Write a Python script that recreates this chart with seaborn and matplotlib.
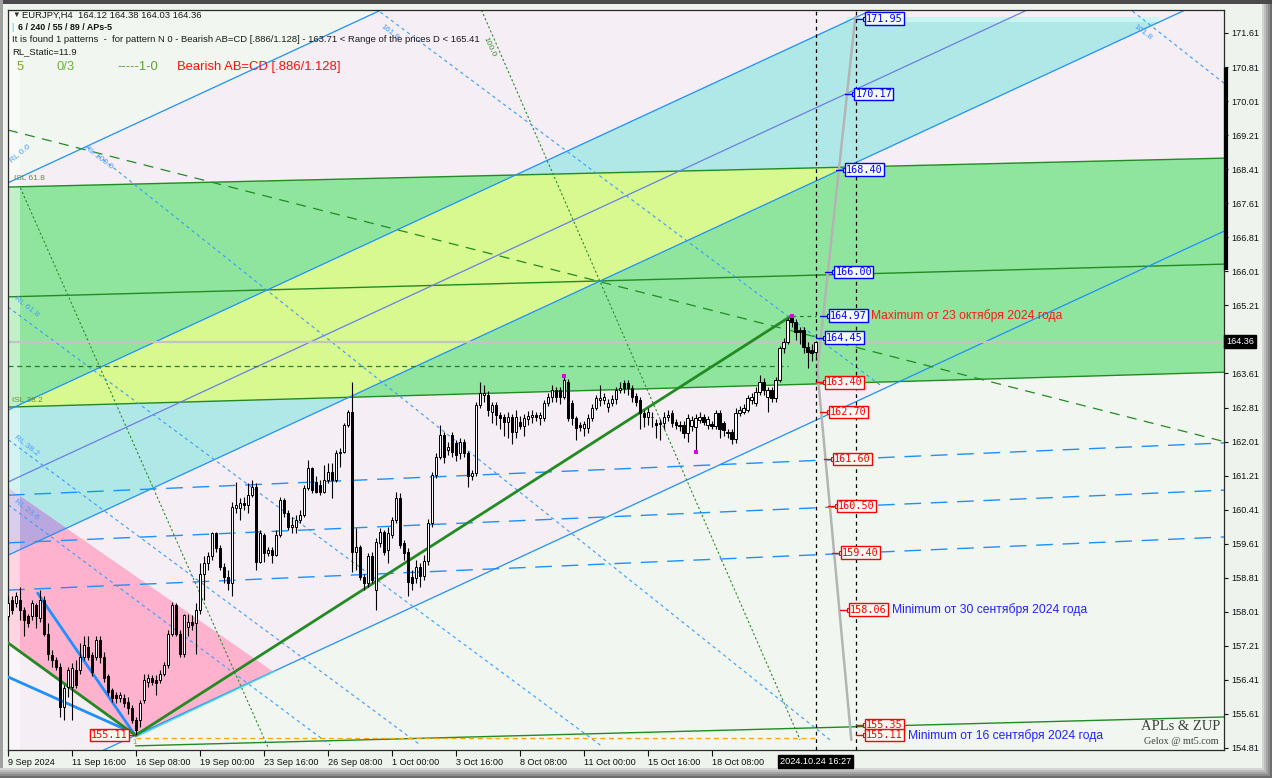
import numpy as np
import pandas as pd
import seaborn as sns
import matplotlib
matplotlib.use("Agg")
import matplotlib.pyplot as plt
import matplotlib.transforms as mtransforms
from matplotlib.patches import Rectangle, Polygon

# ---- EURJPY H4 candles, bar 0 = 9 Sep 2024 00:00 ----
opens = [157.90, 158.29, 158.21, 158.29, 158.05, 157.90, 157.90, 158.17, 157.86, 158.29,
         157.50, 156.99, 156.88, 156.72, 155.78, 156.25, 156.25, 156.64, 156.64, 156.95,
         157.19, 156.99, 156.95, 157.35, 156.95, 156.49, 156.17, 156.05, 155.98, 155.98,
         155.90, 155.74, 155.47, 155.47, 155.94, 156.37, 156.45, 156.41, 156.41, 156.56,
         156.76, 157.50, 158.17, 157.50, 157.03, 157.66, 157.78, 157.74, 158.05, 158.91,
         159.15, 159.31, 159.85, 159.50, 159.07, 158.83, 158.68, 160.44, 160.44, 160.56,
         160.52, 160.75, 160.95, 159.19, 159.81, 159.38, 159.46, 159.34, 159.81, 160.64,
         160.32, 160.01, 160.01, 160.17, 160.28, 160.91, 161.38, 161.07, 160.99, 160.83,
         161.11, 161.30, 161.11, 161.73, 161.77, 162.40, 162.71, 159.42, 159.54, 158.83,
         158.68, 159.31, 158.52, 159.62, 159.89, 159.46, 159.81, 160.17, 160.68, 159.62,
         159.42, 158.83, 158.80, 159.07, 158.85, 159.20, 160.10, 161.22, 161.65, 162.16,
         161.81, 162.16, 161.97, 161.73, 162.00, 161.73, 161.19, 161.26, 162.87, 163.10,
         163.10, 162.71, 162.87, 162.63, 162.59, 162.48, 162.59, 162.24, 162.48, 162.38,
         162.53, 162.59, 162.63, 162.56, 162.56, 162.91, 163.06, 163.22, 163.22, 163.06,
         163.42, 162.91, 162.56, 162.40, 162.34, 162.32, 162.56, 162.79, 162.99, 162.99,
         162.83, 162.91, 163.00, 163.22, 163.38, 163.38, 163.28, 163.08, 162.99, 162.67,
         162.58, 162.58, 162.44, 162.42, 162.45, 162.59, 162.67, 162.48, 162.40, 162.40,
         162.20, 162.38, 162.36, 162.52, 162.59, 162.40, 162.42, 162.38, 162.67, 162.44,
         162.22, 162.24, 162.06, 162.67, 162.71, 162.75, 162.99, 162.91, 163.18, 163.42,
         163.06, 163.22, 163.03, 163.46, 164.20, 164.36, 164.96, 164.83, 164.63, 164.63,
         164.24, 164.16, 164.12]
highs = [158.37, 158.37, 158.48, 158.60, 158.13, 157.97, 158.29, 158.21, 158.52, 158.37,
         157.74, 157.11, 156.95, 156.80, 156.29, 156.72, 156.80, 156.88, 157.27, 157.43,
         157.43, 157.07, 157.43, 157.43, 157.07, 156.56, 156.21, 156.13, 156.13, 156.09,
         156.01, 155.82, 155.55, 155.94, 156.56, 156.56, 156.52, 156.52, 156.64, 156.84,
         157.58, 158.25, 158.21, 157.58, 157.97, 157.97, 157.93, 158.21, 159.15, 159.31,
         159.42, 159.89, 159.89, 159.58, 159.15, 158.99, 160.60, 161.07, 160.68, 160.71,
         161.03, 161.11, 161.03, 159.93, 159.85, 159.54, 159.54, 159.93, 160.71, 160.68,
         160.40, 160.24, 160.28, 160.40, 160.99, 161.58, 161.42, 161.19, 161.11, 161.46,
         161.50, 161.50, 161.81, 161.85, 162.44, 162.75, 163.42, 159.97, 159.58, 158.91,
         159.38, 159.42, 159.74, 159.97, 159.93, 160.01, 160.24, 160.83, 160.79, 159.70,
         159.50, 158.99, 159.23, 159.15, 159.35, 160.20, 161.30, 161.75, 162.40, 162.24,
         162.00, 162.24, 162.05, 162.10, 162.08, 161.80, 161.35, 162.95, 163.40, 163.35,
         163.20, 162.95, 162.95, 162.70, 162.65, 162.70, 162.65, 162.75, 162.60, 162.65,
         162.72, 162.75, 162.70, 162.70, 162.98, 163.15, 163.35, 163.30, 163.30, 163.55,
         163.48, 162.98, 162.60, 162.48, 162.50, 162.65, 162.90, 163.10, 163.34, 163.15,
         163.00, 163.10, 163.30, 163.40, 163.45, 163.45, 163.35, 163.15, 163.05, 162.75,
         162.80, 162.70, 162.55, 162.55, 162.70, 162.75, 162.75, 162.55, 162.50, 162.50,
         162.65, 162.60, 162.65, 162.70, 162.65, 162.60, 162.50, 162.75, 162.75, 162.50,
         162.30, 162.30, 162.80, 162.85, 162.90, 163.10, 163.15, 163.30, 163.57, 163.50,
         163.30, 163.30, 163.52, 164.25, 164.45, 164.92, 164.97, 164.90, 164.70, 164.70,
         164.35, 164.30, 164.38]
lows = [157.82, 157.97, 158.13, 157.82, 157.43, 157.66, 157.82, 157.62, 157.78, 157.43,
        156.88, 156.72, 156.64, 155.55, 155.47, 156.01, 155.47, 156.21, 156.56, 156.88,
        156.88, 156.49, 156.88, 156.80, 156.37, 156.05, 155.90, 155.86, 155.90, 155.78,
        155.62, 155.39, 155.11, 155.31, 155.86, 156.25, 156.29, 156.05, 156.33, 156.49,
        156.68, 157.43, 157.43, 156.95, 156.95, 157.43, 157.58, 157.03, 157.97, 158.29,
        158.99, 159.23, 159.42, 158.99, 158.68, 158.52, 158.37, 160.32, 160.17, 160.40,
        160.32, 160.71, 158.99, 159.15, 159.19, 159.31, 159.15, 159.31, 159.77, 160.24,
        159.93, 159.85, 159.85, 160.09, 160.24, 160.87, 160.79, 160.79, 160.75, 160.79,
        161.03, 160.68, 161.07, 161.42, 161.73, 162.36, 158.95, 158.99, 158.76, 158.52,
        158.60, 158.68, 158.06, 159.54, 159.34, 159.15, 159.74, 160.09, 159.50, 159.23,
        158.37, 158.52, 158.68, 158.60, 158.75, 159.10, 160.00, 161.15, 161.60, 161.50,
        161.70, 161.65, 161.55, 161.60, 161.65, 160.95, 161.10, 161.20, 162.80, 162.95,
        162.60, 162.45, 162.40, 162.30, 162.15, 162.10, 161.95, 162.10, 162.30, 162.15,
        162.40, 162.45, 162.50, 162.40, 162.50, 162.85, 162.95, 162.95, 162.90, 163.00,
        162.50, 162.40, 162.05, 162.25, 162.15, 162.20, 162.50, 162.75, 162.85, 162.90,
        162.70, 162.85, 162.90, 163.15, 163.15, 163.10, 162.95, 162.85, 162.30, 162.35,
        162.40, 162.35, 162.10, 162.05, 162.30, 162.50, 162.35, 162.30, 162.25, 162.10,
        162.00, 162.25, 161.77, 162.45, 162.40, 162.30, 162.30, 162.30, 162.10, 162.15,
        162.10, 161.95, 161.98, 162.60, 162.65, 162.70, 162.90, 162.85, 163.10, 163.10,
        162.70, 162.95, 162.95, 163.40, 164.10, 164.30, 164.70, 164.40, 164.30, 164.10,
        163.73, 163.90, 164.03]
closes = [158.21, 158.05, 158.37, 158.05, 157.82, 157.74, 158.21, 157.90, 158.29, 157.50,
          157.03, 156.88, 156.72, 155.78, 156.21, 156.64, 156.68, 156.29, 156.95, 157.23,
          156.95, 156.60, 157.35, 156.95, 156.45, 156.13, 155.98, 155.98, 156.05, 155.86,
          155.74, 155.47, 155.23, 155.86, 156.41, 156.45, 156.37, 156.33, 156.56, 156.76,
          157.50, 158.17, 157.50, 157.03, 157.93, 157.78, 157.70, 158.05, 158.91, 159.15,
          159.31, 159.85, 159.50, 159.07, 158.83, 158.68, 160.48, 160.52, 160.56, 160.52,
          160.75, 160.95, 159.19, 159.85, 159.38, 159.46, 159.34, 159.81, 160.64, 160.32,
          160.01, 160.05, 160.17, 160.28, 160.91, 161.38, 160.87, 160.83, 160.83, 161.11,
          161.30, 161.11, 161.73, 161.77, 162.40, 162.71, 159.42, 159.54, 158.83, 158.68,
          159.31, 158.76, 159.66, 159.89, 159.42, 159.85, 160.17, 160.68, 159.58, 159.38,
          158.72, 158.68, 159.07, 158.85, 159.20, 160.10, 161.22, 161.65, 162.16, 161.65,
          161.89, 161.77, 161.69, 162.00, 161.73, 161.19, 161.26, 162.87, 163.14, 163.14,
          162.75, 162.87, 162.63, 162.56, 162.48, 162.59, 162.24, 162.59, 162.38, 162.56,
          162.61, 162.63, 162.59, 162.63, 162.91, 163.06, 163.22, 163.06, 163.06, 163.46,
          162.56, 162.56, 162.32, 162.36, 162.42, 162.56, 162.79, 163.03, 163.03, 163.06,
          162.91, 163.00, 163.22, 163.28, 163.28, 163.26, 163.06, 162.95, 162.67, 162.58,
          162.71, 162.59, 162.40, 162.45, 162.59, 162.63, 162.44, 162.40, 162.38, 162.20,
          162.56, 162.52, 162.56, 162.59, 162.48, 162.53, 162.38, 162.69, 162.30, 162.28,
          162.24, 162.06, 162.69, 162.75, 162.79, 163.03, 163.06, 163.18, 163.42, 163.22,
          163.22, 163.03, 163.46, 164.20, 164.36, 164.87, 164.83, 164.59, 164.59, 164.24,
          164.12, 164.10, 164.36]

# ---- axes labels ----
tick_bars = [0, 16, 32, 48, 64, 80, 96, 112, 128, 144, 160, 176]
tick_labels = ["9 Sep 2024", "11 Sep 16:00", "16 Sep 08:00", "19 Sep 00:00", "23 Sep 16:00",
               "26 Sep 08:00", "1 Oct 00:00", "3 Oct 16:00", "8 Oct 08:00", "11 Oct 00:00",
               "15 Oct 16:00", "18 Oct 08:00"]
price_ticks = [154.81, 155.61, 156.41, 157.21, 158.01, 158.81, 159.61, 160.41, 161.21, 162.01,
               162.81, 163.61, 164.41, 165.21, 166.01, 166.81, 167.61, 168.41, 169.21, 170.01,
               170.81, 171.61]
last_price = 164.36

# ---- drawn objects (bar index, price) ----
chan_bars = [0, 304.5]
line_a = [168.09, 181.34]
line_b1 = [162.75, 176.00]
line_b2 = [161.06, 174.31]
line_b3 = [159.34, 172.59]
line_b4 = [153.72, 166.97]
zone_top = [167.99, 168.67]
zone_mid = [165.41, 166.18]
zone_bot = [162.82, 163.64]
fan_161 = [160.75, 161.98]
fan_160 = [159.63, 160.87]
fan_159 = [158.52, 159.77]
trend_dash = [169.33, 162.00]
bottom_line_bars = [31.9, 304.5]
bottom_line = [154.86, 155.54]
cyan_cap = 171.87

pink_tri_bars = [0.1, 66.4, 31.9, 0.1]
pink_tri_prices = [160.92, 156.60, 155.07, 157.23]

abcd_bars = [0.0, 31.9, 196.0]
abcd_prices = [157.28, 155.11, 164.97]

fractal_bars = [139, 172, 196]
fractal_prices = [163.55, 161.77, 164.97]

proj_bars = [211.9, 202.4, 210.9]
proj_prices = [171.99, 163.69, 155.00]

levels = [171.95, 170.17, 168.40, 166.00, 164.97, 164.45, 163.40, 162.70, 161.60, 160.50,
          159.40, 158.06, 155.35, 155.11]
level_bars = [214.6, 211.9, 209.6, 206.9, 205.6, 204.6, 204.6, 205.6, 206.6, 207.6,
              208.6, 210.6, 214.6, 214.6]
level_colors = ["#0000ff"] * 6 + ["#ff0000"] * 8

# ---- style ----
sns.set_theme(style="white")
plt.rcParams["font.family"] = ["Liberation Sans", "DejaVu Sans"]

W, H = 1272, 778
fig = plt.figure(figsize=(W / 100, H / 100), dpi=100, facecolor="#eef3ee")
ax = fig.add_axes([8 / W, 28 / H, 1216 / W, 740 / H])
ax.set_facecolor("#f1f7f0")
ax.set_xlim(0.125, 304.1)
ax.set_ylim(154.763, 172.15)

# pale pink channel interior
ax.fill_between(chan_bars, line_b4, line_a, color="#f5eef4", lw=0, zorder=0.2)

# cyan channel (between B1 and B3, capped at the top)
slope = (line_b1[1] - line_b1[0]) / (chan_bars[1] - chan_bars[0])
i_b1 = (cyan_cap - line_b1[0]) / slope
i_b3 = (cyan_cap - line_b3[0]) / slope
cyan_pts = [(0, line_b1[0]), (i_b1, cyan_cap), (i_b3, cyan_cap), (0, line_b3[0])]
ax.add_patch(Polygon(cyan_pts, closed=True, fc="#b0e8e8", ec="none", zorder=0.4))
ax.add_patch(Rectangle((i_b1, cyan_cap), i_b3 - i_b1, 0.12, fc="#c8f4f2", ec="none", zorder=0.4))

# green zone of the D point
green = Polygon([(0, zone_top[0]), (304.5, zone_top[1]), (304.5, zone_bot[1]), (0, zone_bot[0])],
                closed=True, fc="#8fe59d", ec="none", zorder=0.5)
ax.add_patch(green)
yellow = Polygon(cyan_pts, closed=True, fc="#d8f98f", ec="none", zorder=0.6)
ax.add_patch(yellow)
yellow.set_clip_path(green)

# pink triangle + overlap with cyan
pink = Polygon(list(zip(pink_tri_bars, pink_tri_prices)), closed=True, fc="#ffb2cd", ec="none", zorder=0.7)
ax.add_patch(pink)
purple = Polygon(cyan_pts, closed=True, fc="#b9a7dd", ec="none", zorder=0.8)
ax.add_patch(purple)
purple.set_clip_path(pink)

# faded left strip
ax.add_patch(Rectangle((0, 154), 3, 20, fc="white", alpha=0.45, ec="none", zorder=0.9))

# zone lines
for vals in (zone_top, zone_mid, zone_bot):
    ax.plot(chan_bars, vals, color="#228b22", lw=1, zorder=2)

# channel lines
for vals, col in ((line_a, "#1e90ff"), (line_b1, "#1e90ff"), (line_b2, "#6b7fe6"),
                  (line_b3, "#1e90ff"), (line_b4, "#1e90ff")):
    ax.plot(chan_bars, vals, color=col, lw=0.9, zorder=2)

# fan of long dashed blue lines
for vals in (fan_161, fan_160, fan_159):
    ax.plot(chan_bars, vals, color="#1e90ff", lw=1, dashes=(12, 7), zorder=2)

# dashed dark green trend line
ax.plot(chan_bars, trend_dash, color="#228b22", lw=0.9, dashes=(8, 6), zorder=2)
ax.plot(bottom_line_bars, bottom_line, color="#228b22", lw=1, zorder=2)

# dotted reaction lines (green)
ax.plot([3.1, 65.1], [167.97, 154.81], color="#2e8b2e", lw=0.8, ls=(0, (2, 2)), zorder=2)
ax.plot([118.4, 198.1], [172.15, 155.0], color="#2e8b2e", lw=0.8, ls=(0, (2, 2)), zorder=2)

# dashed reaction lines (blue)
for xs, ys in (([19.9, 205.6], [168.93, 155.0]),
               ([0.0, 148.1], [165.17, 154.88]),
               ([0.1, 103.1], [162.05, 154.88]),
               ([0.1, 80.6], [160.52, 154.88]),
               ([93.1, 218.1], [172.10, 163.34]),
               ([279.9, 304.1], [172.22, 170.43])):
    ax.plot(xs, ys, color="#3b9cff", lw=0.8, ls=(0, (3, 3)), zorder=2)

# horizontal helpers
ax.axhline(last_price, color="#c4c4c4", lw=1.6, zorder=2)
ax.plot([0, 195], [163.79, 163.79], color="#2e7d32", lw=0.9, ls=(0, (4, 3)), zorder=2)
ax.plot([196, 202], [164.97, 164.97], color="#2e7d32", lw=0.9, ls=(0, (3, 3)), zorder=2)
ax.plot([31.9, 202], [155.04, 155.04], color="#ffa500", lw=0.9, ls=(0, (4, 3)), zorder=2)

# pattern lines
pat_blue = pd.DataFrame({"bar": [7.4, 31.4, 0.0, 31.4], "price": [158.45, 155.16, 156.48, 155.16],
                         "leg": ["a", "a", "b", "b"]})
sns.lineplot(data=pat_blue, x="bar", y="price", units="leg", estimator=None,
             color="#1e90ff", lw=2, ax=ax, zorder=3)
ax.plot([31.9, 66.4], [155.07, 156.60], color="#40d8e0", lw=1, zorder=3)
abcd = pd.DataFrame({"bar": abcd_bars, "price": abcd_prices})
sns.lineplot(data=abcd, x="bar", y="price", color="#228b22", lw=2, ax=ax, zorder=3, sort=False)

# projection line
ax.plot(proj_bars, proj_prices, color="#b4b4b4", lw=1.8, zorder=3)

# vertical markers
for b in (202.1, 212.0):
    ax.axvline(b, color="black", lw=0.9, ls=(0, (3, 3)), zorder=3)

# candles
ax.vlines(np.arange(len(closes)), lows, highs, color="black", lw=0.8, zorder=4)
for i, (o, c) in enumerate(zip(opens, closes)):
    ax.add_patch(Rectangle((i - 0.32, min(o, c)), 0.64, max(abs(c - o), 0.012),
                           fc="white" if c >= o else "black", ec="black", lw=0.7, zorder=4.5))

# fractal points
frac = pd.DataFrame({"bar": fractal_bars, "price": fractal_prices})
sns.scatterplot(data=frac, x="bar", y="price", color="#e000e0", marker="s", s=8,
                linewidth=0, ax=ax, zorder=5)

# price level tags
for p, b, col in zip(levels, level_bars, level_colors):
    ax.plot([b - 2.6, b - 0.3], [p, p], color=col, lw=1, zorder=6)
    ax.plot([b - 0.4], [p], marker="s", ms=2.5, mfc="white", mec=col, mew=0.8, zorder=6)
    ax.text(b, p, f"{p:.2f}", color=col, fontsize=7.3, family="DejaVu Sans Mono",
            va="center", ha="left", zorder=7,
            bbox=dict(boxstyle="square,pad=0.12", fc="#f4faf4", ec=col, lw=1))
ax.plot([29.9, 31.9], [155.11, 155.11], color="#ff0000", lw=1, zorder=6)
ax.text(29.9, 155.11, "155.11", color="#ff0000", fontsize=7.3, family="DejaVu Sans Mono",
        va="center", ha="right", zorder=7,
        bbox=dict(boxstyle="square,pad=0.12", fc="#f4faf4", ec="#ff0000", lw=1))
ax.text(31.6, 154.93, "1", color="#e08000", fontsize=5.5, ha="center", va="center", zorder=7)

ax.text(215.9, 164.97, "Maximum от 23 октября 2024 года", color="#ff1a1a", fontsize=8.7,
        va="center", ha="left", zorder=7)
ax.text(221.1, 158.06, "Minimum от 30 сентября 2024 года", color="#2323ff", fontsize=8.7,
        va="center", ha="left", zorder=7)
ax.text(225.1, 155.11, "Minimum от 16 сентября 2024 года", color="#2323ff", fontsize=8.7,
        va="center", ha="left", zorder=7)

# small rotated level captions
cap_kw = dict(fontsize=6, zorder=7, rotation_mode="anchor")
ax.text(1.5, 168.15, "ISL 61.8", color="#6b8e23", **cap_kw)
ax.text(1.0, 162.95, "ISL 38.2", color="#6b8e23", **cap_kw)
ax.text(19.0, 168.9, "RL 100.0", color="#4a9cff", rotation=-38, **cap_kw)
ax.text(1.5, 165.35, "RL 61.8", color="#4a9cff", rotation=-38, **cap_kw)
ax.text(1.5, 162.1, "RL 38.2", color="#4a9cff", rotation=-38, **cap_kw)
ax.text(1.5, 160.6, "RL 23.6", color="#4a9cff", rotation=-38, **cap_kw)
ax.text(1.0, 168.55, "RL 0.0", color="#4a9cff", rotation=40, **cap_kw)
ax.text(119.0, 171.5, "100.0", color="#3a9a3a", rotation=-65, **cap_kw)
ax.text(93.0, 171.75, "161.8", color="#4a9cff", rotation=-38, **cap_kw)
ax.text(281.5, 171.75, "161.8", color="#4a9cff", rotation=-38, **cap_kw)

# ---- axes styling ----
ax.yaxis.tick_right()
ax.set_yticks(price_ticks)
ax.set_yticklabels(["" if t == 164.41 else f"{t:.2f}" for t in price_ticks])
ax.set_xticks(tick_bars)
ax.set_xticklabels(tick_labels, ha="left")
ax.tick_params(axis="y", right=True, length=3, width=0.8, pad=2, labelsize=6.6, colors="#111111")
ax.tick_params(axis="x", bottom=True, length=4, width=0.8, pad=2, labelsize=6.6, colors="#111111")
ax.set_xlabel("")
ax.set_ylabel("")
for sp in ax.spines.values():
    sp.set_color("#2a2a2a")
    sp.set_linewidth(0.9)

yblend = mtransforms.blended_transform_factory(ax.transAxes, ax.transData)
ax.plot([1.0016, 1.0016], [166.04, 170.79], transform=yblend, color="black", lw=3,
        clip_on=False, zorder=8, solid_capstyle="butt")
ax.text(1.0018, last_price, f"{last_price:.2f}", transform=yblend, color="white", fontsize=6.6,
        va="center", ha="left", zorder=9, bbox=dict(boxstyle="square,pad=0.2", fc="black", ec="black"))
xblend = mtransforms.blended_transform_factory(ax.transData, ax.transAxes)
ax.text(193.1, -0.0155, "2024.10.24 16:27", transform=xblend, color="white", fontsize=6.6,
        va="center", ha="left", zorder=9, clip_on=False,
        bbox=dict(boxstyle="square,pad=0.2", fc="black", ec="black"))

# ---- header text ----
def ftext(x, y, s, **kw):
    fig.text(x / W, 1 - y / H, s, va="center", ha="left", **kw)


hdr = dict(fontsize=6.8, color="#1a1a1a")
ftext(12, 15, "▼", fontsize=5.5, color="#333333")
ftext(22, 15, "EURJPY,H4  164.12 164.38 164.03 164.36", **hdr)
ftext(11, 28, "|", fontsize=6.5, color="#30c8c8")
ftext(18, 28, "6 / 240 / 55 / 89 / APs-5", fontsize=6.4, color="#111111", weight="bold")
ftext(12, 40, "It is found 1 patterns  -  for pattern N 0 - Bearish AB=CD [.886/1.128] - 163.71 < "
              "Range of the prices D < 165.41", **hdr)
ftext(12, 52, "RL_Static=11.9", **hdr)
ftext(17, 67, "5", fontsize=9.4, color="#7fa52e")
ftext(57, 67, "0/3", fontsize=9.4, color="#6cb33e")
ftext(117, 67, "-----1-0", fontsize=9.4, color="#5f9f3f")
ftext(177, 67, "Bearish AB=CD [.886/1.128]", fontsize=9.4, color="#ff1010")

fig.text(1181 / W, 1 - 727 / H, "APLs & ZUP", ha="center", va="center",
         family="Liberation Serif", fontsize=10.5, color="#404040")
fig.text(1181 / W, 1 - 742 / H, "Gelox @ mt5.com", ha="center", va="center",
         family="Liberation Serif", fontsize=7.3, color="#404040")

# ---- terminal frame ----
def frect(x, y, w, h, c):
    fig.add_artist(Rectangle((x / W, 1 - (y + h) / H), w / W, h / H, transform=fig.transFigure,
                             fc=c, ec="none", zorder=-1))


frect(0, 0, W, 4, "#4a4a4a")
frect(0, 0, 3, H, "#a0a0a0")
for k, c in enumerate(["#d4d4d4", "#bcbcbc", "#a4a4a4", "#8c8c8c", "#6e6e6e"]):
    frect(1262 + 2 * k, 4, 2, H, c)
    frect(0, 768 + 2 * k, W, 2, c)

fig.savefig("out.png", dpi=100, facecolor=fig.get_facecolor())
